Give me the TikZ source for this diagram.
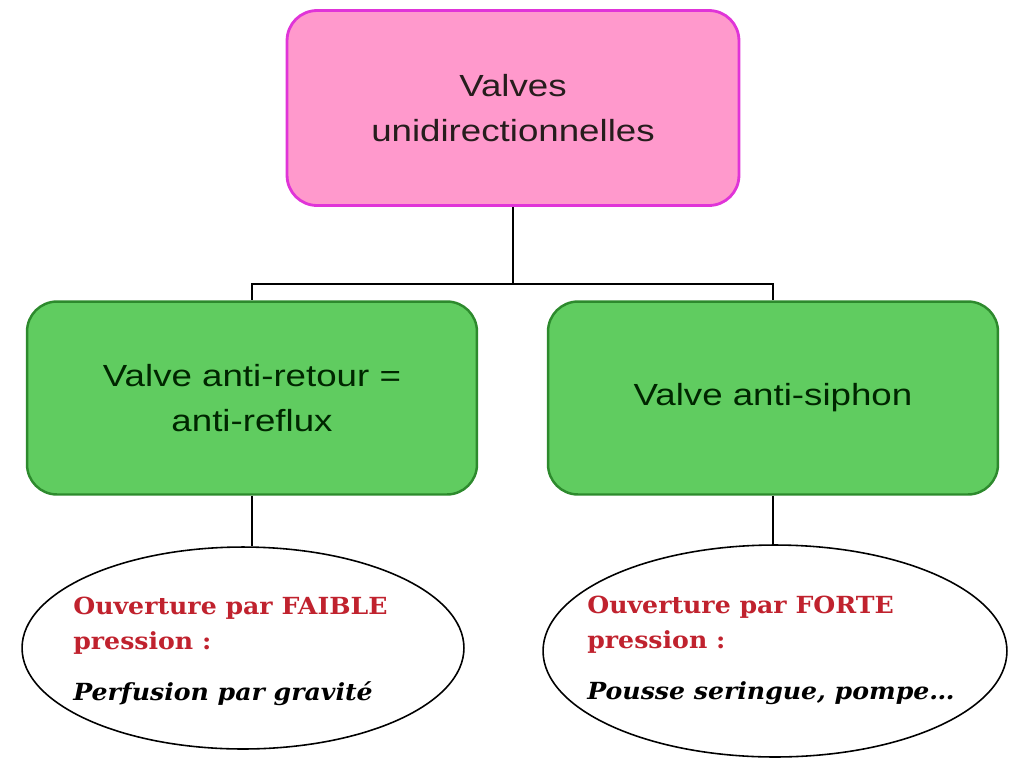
\documentclass[tikz,border=0pt]{standalone}
\usepackage{fontspec}
\usetikzlibrary{positioning,shapes.geometric}
\newfontfamily\boxfont[FakeStretch=1.2]{Liberation Sans}
\newfontfamily\ovalfont[FakeStretch=1.07]{DejaVu Serif}
\definecolor{pinkfill}{HTML}{FF99CC}
\definecolor{pinkline}{HTML}{E034D8}
\definecolor{greenfill}{HTML}{60CC60}
\definecolor{greenline}{HTML}{2D8A2D}
\definecolor{redtext}{HTML}{C0222E}
\begin{document}
\begin{tikzpicture}[x=0.02cm,y=-0.02cm,
    topbox/.style={draw=pinkline,fill=pinkfill,line width=1.6pt,rounded corners=0.6cm,
      minimum width=9.04cm,minimum height=3.9cm,align=center,text=black!85!pink,
      font=\boxfont\fontsize{17.4}{26}\selectfont},
    valvebox/.style={draw=greenline,fill=greenfill,line width=1.4pt,rounded corners=0.6cm,
      minimum width=9cm,minimum height=3.86cm,align=center,text=black!85!green,
      font=\boxfont\fontsize{17.4}{26}\selectfont},
    oval/.style={ellipse,draw,line width=0.9pt,inner sep=0pt},
    ovaltext/.style={anchor=north west,inner sep=0pt,align=left,
      font=\ovalfont\fontsize{13.4}{20}\selectfont},
    wire/.style={line width=1.3pt}]
  \useasboundingbox (0,0) rectangle (1012,762);
  \node[topbox] (valves) at (513,108) {Valves\\unidirectionnelles};
  \node[valvebox] (retour) at (252,398) {Valve anti-retour =\\anti-reflux};
  \node[valvebox] (siphon) at (773,398) {Valve anti-siphon};
  \node[oval,minimum width=8.84cm,minimum height=4.04cm] (ovalL) at (243,648) {};
  \node[oval,minimum width=9.28cm,minimum height=4.24cm] (ovalR) at (775,651) {};
  \node[ovaltext] (txtL) at (73,597) {\textcolor{redtext}{\bfseries Ouverture par FAIBLE}\\
    \textcolor{redtext}{\bfseries pression :}\\[9pt]
    \bfseries\itshape Perfusion par gravité};
  \node[ovaltext] (txtR) at (587,596) {\textcolor{redtext}{\bfseries Ouverture par FORTE}\\
    \textcolor{redtext}{\bfseries pression :}\\[9pt]
    \bfseries\itshape Pousse seringue, pompe\dots};
  \draw[wire] (valves.south) -- ++(0,77) -| (retour.north);
  \draw[wire] (valves.south) -- ++(0,77) -| (siphon.north);
  \draw[wire] (retour.south) -- (retour.south |- ovalL.north);
  \draw[wire] (siphon.south) -- (siphon.south |- ovalR.north);
\end{tikzpicture}
\end{document}
